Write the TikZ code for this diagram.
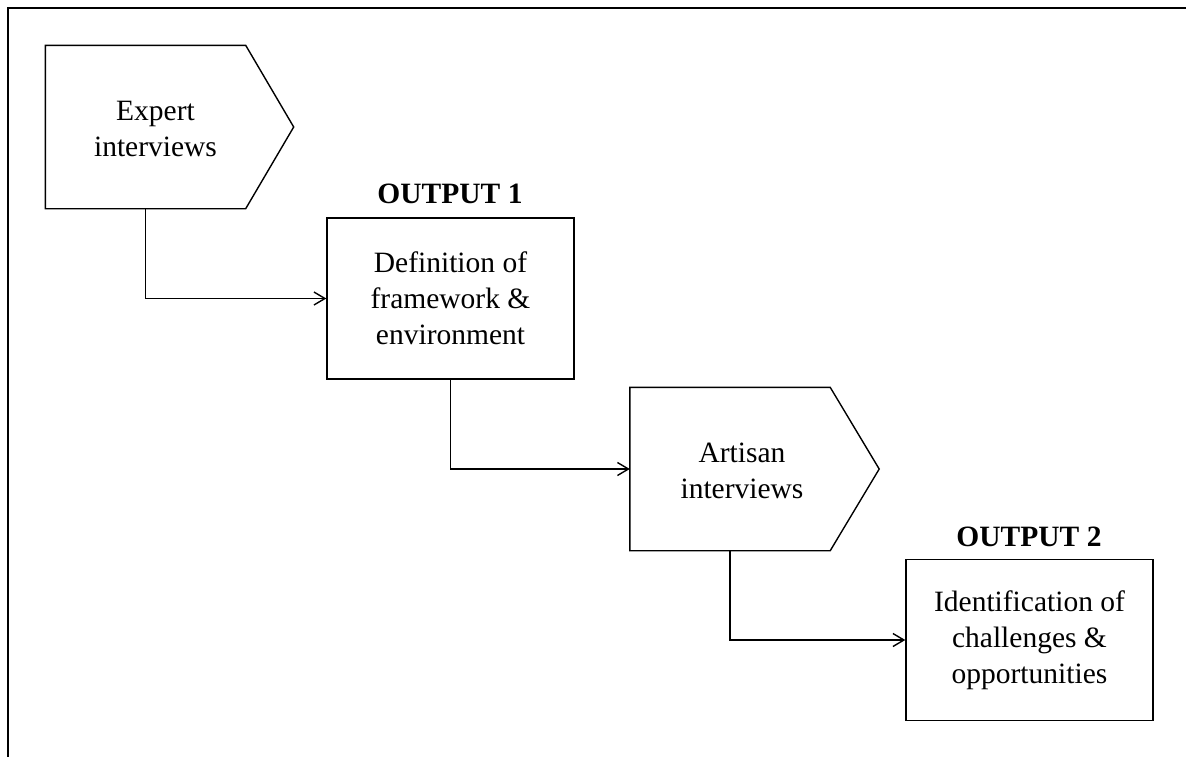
\documentclass[tikz,border=0pt]{standalone}
\usepackage{fontspec}
\setmainfont{Liberation Serif}
\usetikzlibrary{arrows.meta,calc}
\begin{document}
\begin{tikzpicture}[x=1pt,y=-1pt,
  line width=1.4pt,
  txt/.style={font=\fontsize{29.5}{36}\selectfont, align=center},
  stepbox/.style={draw, minimum width=247pt, minimum height=161pt, inner sep=0pt, txt},
  pentbody/.style={minimum width=199pt, minimum height=162pt, inner sep=0pt},
  outlbl/.style={font=\fontsize{29.5}{36}\selectfont\bfseries, inner sep=0pt},
  conn/.style={-{Straight Barb[length=11pt,width=13pt]}, line width=1.4pt},
]
\useasboundingbox (0,0) rectangle (1186,756);
% outer frame
\draw (8,760) -- (8,8) -- (1190,8);

% Expert interviews (pentagon)
\node[pentbody, label={[name=e1t,txt,xshift=10pt,yshift=-2pt]center:Expert\\interviews}] (e1) at (145.5,127) {};
\draw (e1.north west) -- (e1.north east) -- ($(e1.east)+(48,0)$) -- (e1.south east) -- (e1.south west) -- cycle;

% Output 1 box
\node[stepbox] (b1) at (450.5,298.5) {Definition of\\framework \&\\environment};
\node[outlbl] (o1) at (450,194) {OUTPUT 1};

% Artisan interviews (pentagon)
\node[pentbody, label={[name=e2t,txt,xshift=12pt,yshift=-2pt]center:Artisan\\interviews}] (e2) at (730,469) {};
\draw (e2.north west) -- (e2.north east) -- ($(e2.east)+(49,0)$) -- (e2.south east) -- (e2.south west) -- cycle;

% Output 2 box
\node[stepbox] (b2) at (1029.5,640) {Identification of\\challenges \&\\opportunities};
\node[outlbl] (o2) at (1029,537) {OUTPUT 2};

% connectors
\draw[conn] (e1.south) |- (b1.west);
\draw[conn] (b1.south) |- (e2.west);
\draw[conn] (e2.south) |- (b2.west);
\end{tikzpicture}
\end{document}
